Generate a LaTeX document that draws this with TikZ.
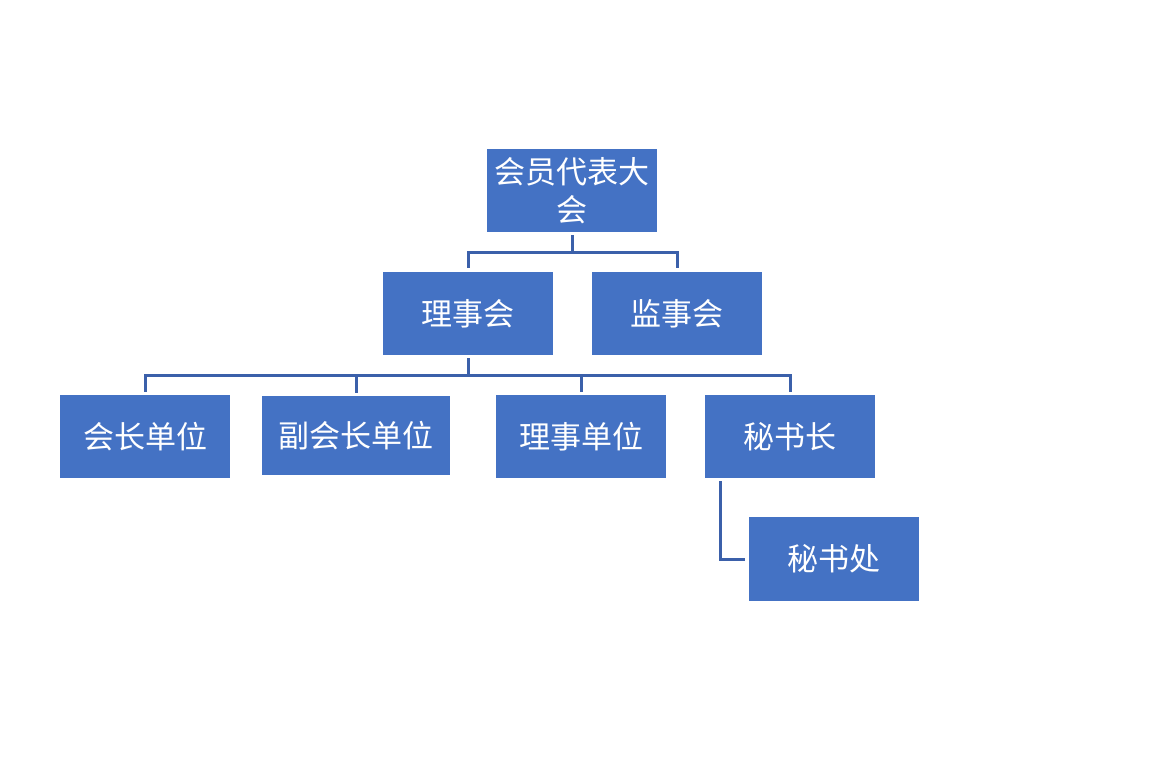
\documentclass[tikz,border=0pt]{standalone}
\usepackage{fontspec}
\newfontfamily\cjk{Noto Sans CJK SC}
\definecolor{boxblue}{RGB}{68,114,196}
\definecolor{linkblue}{RGB}{59,96,170}

\begin{document}
\begin{tikzpicture}[x=1pt,y=-1pt,
		orgbox/.style={fill=boxblue, text=white, inner sep=0pt, minimum width=170pt, minimum height=83pt, align=center, font=\cjk\fontsize{31}{38}\selectfont},
		link/.style={draw=linkblue, line width=3pt}]
		%% The page is the same size as the reference, one pixel is one point and y runs downwards
		\useasboundingbox (0,0) rectangle (1149,763);
		%% Top of the tree
		\node (dahui) at (572,190.5) [orgbox] {会员代表大\\会};
		%% Second row
		\node (lishihui) at (468,313.5) [orgbox] {理事会};
		\node (jianshihui) at (677,313.5) [orgbox] {监事会};
		%% Third row, the second box is a bit wider and a bit lower
		\node (huizhang) at (145,436.5) [orgbox] {会长单位};
		\node (fuhuizhang) at (356,435.5) [orgbox, minimum width=188pt, minimum height=79pt] {副会长单位};
		\node (lishidanwei) at (581,436.5) [orgbox] {理事单位};
		\node (mishuzhang) at (790,436.5) [orgbox] {秘书长};
		%% Assistant box under the secretary general
		\node (mishuchu) at (834,559) [orgbox, minimum height=84pt] {秘书处};
		%% Connectors: down, across, and down again
		\draw[link] ([yshift=-3pt]dahui.south) -- ++(0,17) -| ([yshift=4pt]lishihui.north);
		\draw[link] ([yshift=-3pt]dahui.south) -- ++(0,17) -| ([yshift=4pt]jianshihui.north);
		\draw[link] ([yshift=-3pt]lishihui.south) -- ++(0,17) -| ([yshift=3pt]huizhang.north);
		\draw[link] ([yshift=-3pt]lishihui.south) -- ++(0,17) -| ([yshift=3pt]fuhuizhang.north);
		\draw[link] ([yshift=-3pt]lishihui.south) -- ++(0,17) -| ([yshift=3pt]lishidanwei.north);
		\draw[link] ([yshift=-3pt]lishihui.south) -- ++(0,17) -| ([yshift=3pt]mishuzhang.north);
		%% The assistant hangs off the left side
		\draw[link] ([xshift=16pt,yshift=-3pt]mishuzhang.south west) |- ([xshift=-4pt]mishuchu.west);
		%\draw[help lines, step=50] (0,0) grid (1149,763);
	\end{tikzpicture}
\end{document}
